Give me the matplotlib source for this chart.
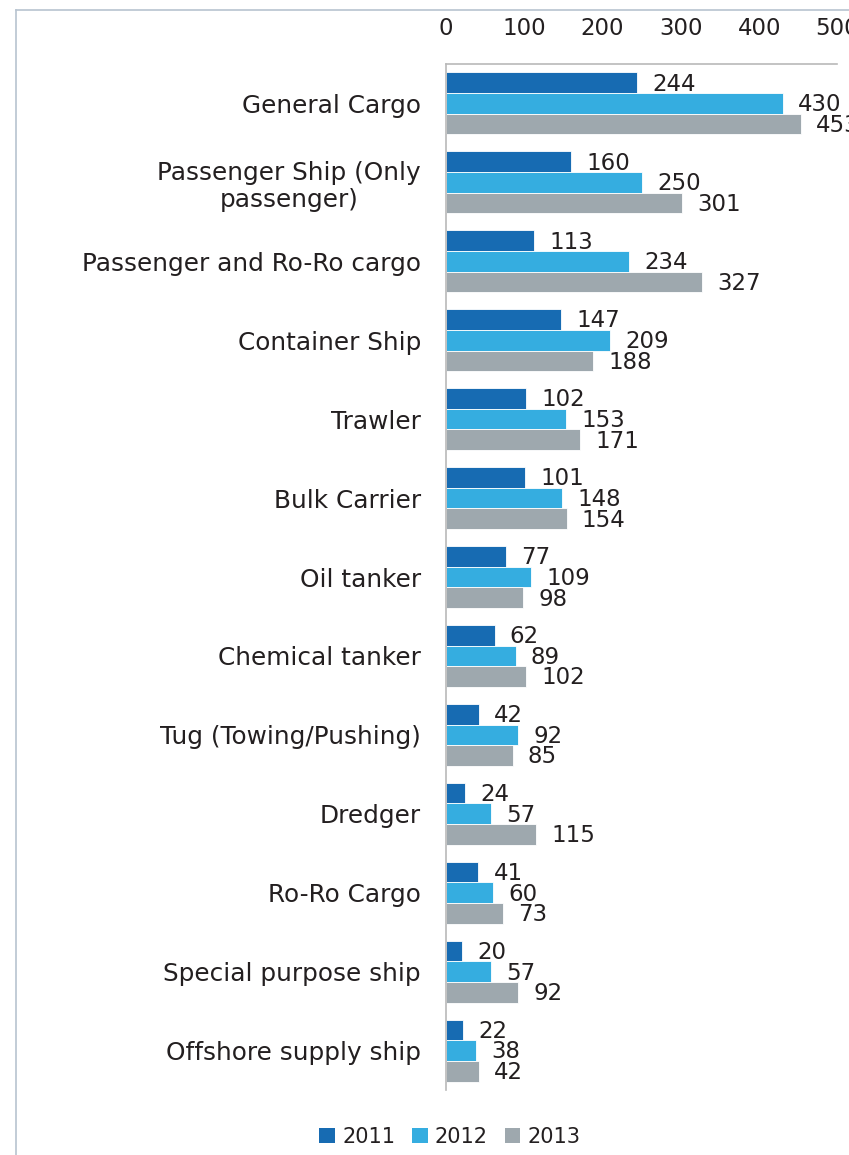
import numpy as np
import matplotlib.pyplot as plt
from matplotlib.patches import Patch

plt.rcParams["font.family"] = ["DejaVu Sans"]

# data
ship_types = [
    "General Cargo",
    "Passenger Ship (Only\npassenger)",
    "Passenger and Ro-Ro cargo",
    "Container Ship",
    "Trawler",
    "Bulk Carrier",
    "Oil tanker",
    "Chemical tanker",
    "Tug (Towing/Pushing)",
    "Dredger",
    "Ro-Ro Cargo",
    "Special purpose ship",
    "Offshore supply ship",
]
years = ["2011", "2012", "2013"]
v2011 = [244, 160, 113, 147, 102, 101, 77, 62, 42, 24, 41, 20, 22]
v2012 = [430, 250, 234, 209, 153, 148, 109, 89, 92, 57, 60, 57, 38]
v2013 = [453, 301, 327, 188, 171, 154, 98, 102, 85, 115, 73, 92, 42]
ticks = [0, 100, 200, 300, 400, 500]

colors = ["#176bb2", "#35ade0", "#9ea8ae"]
txt = "#231f20"
fs_cat = 17.8
fs_num = 16.5

fig = plt.figure(figsize=(8.49, 11.55), dpi=100)
ax = fig.add_axes([446 / 849, 1 - 1090 / 1155, (837.5 - 446) / 849, (1090 - 64) / 1155])

n = len(ship_types)
y = np.arange(n)
h = 0.262
for k, (vals, c, lab) in enumerate(zip([v2011, v2012, v2013], colors, years)):
    yy = y + (k - 1) * h
    ax.barh(yy, vals, height=h, color=c, edgecolor="white", linewidth=0.6, label=lab)
    for yi, v in zip(yy, vals):
        ax.annotate(str(v), (v, yi), xytext=(11, -1), textcoords="offset points",
                    ha="left", va="center", fontsize=fs_num, color=txt,
                    annotation_clip=False)

ax.set_ylim(n - 0.5, -0.5)
ax.set_xlim(0, 500)
ax.set_yticks(y)
ax.set_yticklabels(ship_types, fontsize=fs_cat, color=txt, ha="right",
                   multialignment="center", linespacing=1.15)
ax.xaxis.tick_top()
ax.set_xticks(ticks)
ax.set_xticklabels([str(t) for t in ticks], fontsize=fs_num, color=txt)
ax.tick_params(axis="x", length=0, pad=17)
ax.tick_params(axis="y", length=0, pad=18)
for s in ["right", "bottom"]:
    ax.spines[s].set_visible(False)
for s in ["top", "left"]:
    ax.spines[s].set_color("#b9b9b9")
    ax.spines[s].set_linewidth(1.2)

# chart area border (cropped on the right and bottom)
fig.add_artist(plt.Line2D([16 / 849, 16 / 849], [0, 1 - 10 / 1155], color="#b8c4d0", lw=1.2))
fig.add_artist(plt.Line2D([16 / 849, 1], [1 - 10 / 1155, 1 - 10 / 1155], color="#b8c4d0", lw=1.2))

handles = [Patch(facecolor=c, label=l) for c, l in zip(colors, years)]
fig.legend(handles=handles, loc="center", bbox_to_anchor=(450 / 849, 1 - 1137 / 1155),
           ncol=3, frameon=False, fontsize=15, handlelength=0.75, handleheight=0.75,
           handletextpad=0.35, columnspacing=0.8, labelcolor=txt)

fig.savefig("out.png", dpi=100)
